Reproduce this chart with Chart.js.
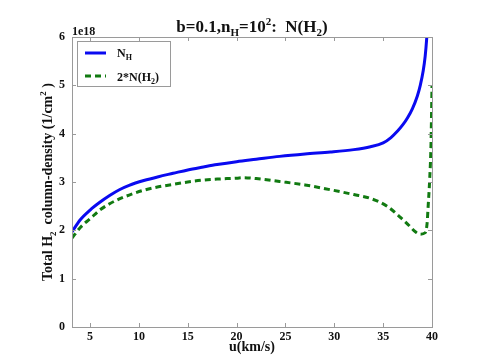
<!DOCTYPE html>
<html>
<head>
<meta charset="utf-8">
<script src="https://cdn.jsdelivr.net/npm/chart.js@4/dist/chart.umd.min.js"></script>
<style>
  html, body { margin: 0; padding: 0; background: #fff; }
  #wrap { width: 480px; height: 363px; }
</style>
</head>
<body>
<div id="wrap"><canvas id="chart" width="480" height="363"></canvas></div>
<script>
// data
var uH   = [3.15, 4, 5, 6, 7, 8, 9, 10.5, 12, 13.5, 15, 16.6, 18, 20, 22, 24.4, 27, 29.6, 32, 33.7, 35, 35.8, 36.5, 37, 37.5, 38, 38.5, 38.8, 39.1, 39.3, 39.45, 39.55];
var nH   = [1.97, 2.22, 2.42, 2.58, 2.72, 2.84, 2.93, 3.03, 3.11, 3.18, 3.25, 3.31, 3.36, 3.42, 3.47, 3.53, 3.58, 3.62, 3.67, 3.73, 3.81, 3.92, 4.06, 4.18, 4.33, 4.52, 4.78, 5.0, 5.3, 5.6, 5.95, 6.3];
var uH2  = [3.15, 4, 5, 6, 7, 8, 9, 10.5, 12, 13.5, 15, 16.6, 18, 20, 20.7, 22, 24.4, 27, 29.6, 32, 33.7, 35.4, 36.7, 37.5, 38.3, 38.8, 39.3, 39.5, 39.6, 39.75, 39.9, 40];
var n2H2 = [1.84, 2.06, 2.24, 2.42, 2.55, 2.65, 2.73, 2.83, 2.90, 2.95, 3.00, 3.04, 3.06, 3.08, 3.09, 3.07, 3.01, 2.94, 2.84, 2.74, 2.66, 2.50, 2.28, 2.13, 1.97, 1.92, 1.95, 2.15, 2.48, 3.0, 3.8, 5.0];
var xTicks = [5, 10, 15, 20, 25, 30, 35, 40];
var yTicks = [0, 1, 2, 3, 4, 5, 6];

var SERIF = '"Liberation Serif", "DejaVu Serif", serif';
var BLUE = '#0a0af0';
var GREEN = '#117a11';

function pts(xs, ys) {
    return xs.map(function (x, i) { return {x: x, y: ys[i]}; });
}

// text with sub/superscripts, parts = [[text, 'n'|'sub'|'sup'], ...]
function richWidth(ctx, parts, size) {
    var w = 0;
    parts.forEach(function (p) {
        ctx.font = 'bold ' + (p[1] === 'n' ? size : Math.round(size * 0.65)) + 'px ' + SERIF;
        w += ctx.measureText(p[0]).width;
    });
    return w;
}

function drawRich(ctx, parts, x, y, size) {
    parts.forEach(function (p) {
        var s = p[1] === 'n' ? size : Math.round(size * 0.65);
        var dy = p[1] === 'sub' ? size * 0.25 : (p[1] === 'sup' ? -size * 0.4 : 0);
        ctx.font = 'bold ' + s + 'px ' + SERIF;
        ctx.fillText(p[0], x, y + dy);
        x += ctx.measureText(p[0]).width;
    });
}

var decorPlugin = {
    id: 'decor',
    afterDraw: function (chart) {
        var ctx = chart.ctx;
        var a = chart.chartArea;
        var xs = chart.scales.x, ys = chart.scales.y;
        ctx.save();

        // box and inward ticks
        ctx.strokeStyle = '#9a9a9a';
        ctx.lineWidth = 1;
        ctx.strokeRect(a.left + 0.5, a.top + 0.5, a.right - a.left, a.bottom - a.top);
        ctx.beginPath();
        xTicks.forEach(function (v) {
            var px = Math.round(xs.getPixelForValue(v)) + 0.5;
            ctx.moveTo(px, a.bottom); ctx.lineTo(px, a.bottom - 4);
            ctx.moveTo(px, a.top); ctx.lineTo(px, a.top + 4);
        });
        yTicks.forEach(function (v) {
            var py = Math.round(ys.getPixelForValue(v)) + 0.5;
            ctx.moveTo(a.left, py); ctx.lineTo(a.left + 4, py);
            ctx.moveTo(a.right, py); ctx.lineTo(a.right - 4, py);
        });
        ctx.stroke();

        ctx.fillStyle = '#111';
        ctx.textBaseline = 'alphabetic';
        ctx.textAlign = 'left';

        // title
        var title = [['b=0.1,n', 'n'], ['H', 'sub'], ['=10', 'n'], ['2', 'sup'], [':  N(H', 'n'], ['2', 'sub'], [')', 'n']];
        var tw = richWidth(ctx, title, 17);
        drawRich(ctx, title, 252 - tw / 2, 32, 17);

        // exponent
        ctx.font = 'bold 12px ' + SERIF;
        ctx.fillText('1e18', 72, 35);

        // x label
        var xl = [['u(km/s)', 'n']];
        var xw = richWidth(ctx, xl, 14);
        drawRich(ctx, xl, (a.left + a.right) / 2 - xw / 2, 351, 14);

        // y label
        var yl = [['Total H', 'n'], ['2', 'sub'], ['  column-density (1/cm', 'n'], ['2', 'sup'], [' )', 'n']];
        var yw = richWidth(ctx, yl, 14);
        ctx.save();
        ctx.translate(52, 182);
        ctx.rotate(-Math.PI / 2);
        drawRich(ctx, yl, -yw / 2, 0, 14);
        ctx.restore();

        // legend
        var lx = 77, ly = 41, lw = 93, lh = 45;
        ctx.fillStyle = '#fff';
        ctx.fillRect(lx, ly, lw, lh);
        ctx.strokeStyle = '#9a9a9a';
        ctx.strokeRect(lx + 0.5, ly + 0.5, lw, lh);
        ctx.lineWidth = 3;
        ctx.strokeStyle = BLUE;
        ctx.beginPath(); ctx.moveTo(85, 53); ctx.lineTo(106, 53); ctx.stroke();
        ctx.strokeStyle = GREEN;
        ctx.setLineDash([6, 4]);
        ctx.beginPath(); ctx.moveTo(85, 76); ctx.lineTo(106, 76); ctx.stroke();
        ctx.setLineDash([]);
        ctx.fillStyle = '#111';
        drawRich(ctx, [['N', 'n'], ['H', 'sub']], 117, 57, 12);
        drawRich(ctx, [['2*N(H', 'n'], ['2', 'sub'], [')', 'n']], 117, 81, 12);

        ctx.restore();
    }
};

new Chart(document.getElementById('chart'), {
    type: 'scatter',
    data: {
        datasets: [{
            label: 'N_H',
            data: pts(uH, nH),
            showLine: true,
            borderColor: BLUE,
            borderWidth: 3,
            pointRadius: 0,
            cubicInterpolationMode: 'monotone'
        }, {
            label: '2*N(H2)',
            data: pts(uH2, n2H2),
            showLine: true,
            borderColor: GREEN,
            borderWidth: 3,
            borderDash: [6, 4],
            pointRadius: 0,
            cubicInterpolationMode: 'monotone'
        }]
    },
    options: {
        responsive: false,
        animation: false,
        layout: { padding: { top: 37, right: 48, left: 0, bottom: 0 } },
        plugins: {
            legend: { display: false },
            tooltip: { enabled: false }
        },
        scales: {
            x: {
                type: 'linear',
                min: 3.15,
                max: 40,
                afterBuildTicks: function (s) { s.ticks = xTicks.map(function (v) { return {value: v}; }); },
                afterFit: function (s) { s.height = 36; },
                grid: { display: false, drawTicks: false },
                border: { display: false },
                ticks: { padding: 3, color: '#111', font: { family: SERIF, size: 12, weight: 'bold' } }
            },
            y: {
                min: 0,
                max: 6,
                afterBuildTicks: function (s) { s.ticks = yTicks.map(function (v) { return {value: v}; }); },
                afterFit: function (s) { s.width = 72; },
                grid: { display: false, drawTicks: false },
                border: { display: false },
                ticks: { padding: 7, color: '#111', font: { family: SERIF, size: 12, weight: 'bold' } }
            }
        }
    },
    plugins: [decorPlugin]
});
</script>
</body>
</html>
